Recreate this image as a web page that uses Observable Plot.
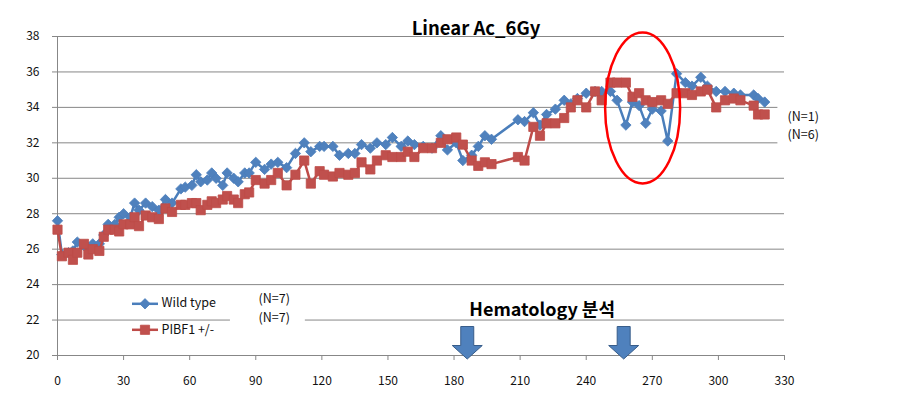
<!DOCTYPE html>
<html><head><meta charset="utf-8">
<script src="https://cdn.jsdelivr.net/npm/d3@7"></script>
<script src="https://cdn.jsdelivr.net/npm/@observablehq/plot@0.6"></script>
<style>body{margin:0;background:#fff;}</style>
</head><body><div id="chart"></div>
<script>
// ---- data ----
const days = [
  0,2,5,7,9,12,14,16,19,21,
  23,26,28,30,33,35,37,40,43,46,
  49,52,56,58,61,63,65,68,70,72,
  75,77,80,82,85,87,90,94,97,100,
  104,108,112,115,119,121,125,128,132,135,
  138,142,145,149,152,156,159,162,166,170,
  174,177,181,184,188,191,194,197,209,212,
  216,219,222,226,230,233,236,240,244,247,
  251,254,258,261,264,267,270,274,277,281,
  285,288,292,295,299,303,307,310,316,318,
  321
];
const wildType = [
  27.6,25.7,25.8,25.9,26.4,26.2,26.1,26.3,26.3,26.8,
  27.4,27.4,27.8,28.0,27.8,28.6,28.2,28.6,28.4,28.2,
  28.8,28.6,29.4,29.5,29.6,30.2,29.8,29.9,30.3,30.0,
  29.6,30.3,30.0,29.8,30.3,30.3,30.9,30.5,30.8,30.9,
  30.6,31.4,32.0,31.5,31.8,31.8,31.8,31.3,31.4,31.4,
  31.9,31.7,32.0,31.9,32.3,31.8,32.1,31.9,31.8,31.7,
  32.4,31.6,32.0,31.0,31.3,31.8,32.4,32.2,33.3,33.2,
  33.7,33.0,33.6,33.9,34.4,34.2,34.5,34.8,34.9,34.9,
  34.9,34.4,33.0,34.3,34.1,33.1,33.9,33.8,32.1,35.9,
  35.4,35.2,35.7,35.2,34.9,34.9,34.8,34.7,34.7,34.5,
  34.3
];
const pibf1 = [
  27.1,25.6,25.8,25.4,25.8,26.3,25.7,26.0,25.9,26.7,
  27.1,27.1,27.0,27.4,27.4,27.8,27.3,27.9,27.8,27.7,
  28.3,28.1,28.5,28.5,28.6,28.6,28.2,28.5,28.7,28.6,
  28.8,29.0,28.8,28.6,29.1,29.2,29.9,29.7,29.9,30.3,
  29.6,30.2,31.0,29.7,30.4,30.2,30.1,30.3,30.2,30.3,
  30.9,30.5,31.0,31.3,31.2,31.2,31.5,31.2,31.7,31.7,
  32.0,32.2,32.3,31.9,31.0,30.7,30.9,30.8,31.2,31.0,
  32.9,32.4,33.1,33.1,33.4,34.0,34.4,34.0,34.9,34.4,
  35.4,35.4,35.4,34.6,34.8,34.4,34.3,34.4,34.2,34.8,
  34.8,34.7,34.9,35.0,34.0,34.4,34.5,34.4,34.1,33.6,
  33.6
];
const xTicks = [0,30,60,90,120,150,180,210,240,270,300,330];
const yTicks = [20,22,24,26,28,30,32,34,36,38];
const seriesNames = ["Wild type", "PIBF1 +/-"];
const startGroupSizes = ["(N=7)", "(N=7)"];
const lateGroupSizes = ["(N=1)", "(N=6)"];
const chartTitle = "Linear Ac_6Gy";
const hematologyLabel = "Hematology 분석";
const hematologyDays = [186, 257];
const highlightDay = [265.6];
const highlightValue = [33.97];

// ---- build ----
const rows = days.map((d, i) => ({day: d, wild: wildType[i], pibf: pibf1[i]}));

const blue = "#4f81bd", blueLine = "#4a7ebb", red = "#c0504d", redLine = "#be4b48";
const gridColor = "#878787";
const font = "'Malgun Gothic','Noto Sans CJK KR','Noto Sans',sans-serif";

const diamond = {draw(c) { const s = 5.2; c.moveTo(0,-s); c.lineTo(s,0); c.lineTo(0,s); c.lineTo(-s,0); c.closePath(); }};
const square = {draw(c) { const s = 4.6; c.rect(-s,-s,2*s,2*s); }};
const hline = {draw(c) { c.rect(-13,-1.25,26,2.5); }};
const downArrow = {draw(c) {
  c.moveTo(-6.5,-29); c.lineTo(6.5,-29); c.lineTo(6.5,-10); c.lineTo(15,-10);
  c.lineTo(0,3.5); c.lineTo(-15,-10); c.lineTo(-6.5,-10); c.closePath();
}};
const ellipse = {draw(c) {
  const rx = 37.5, ry = 75.5, k = 0.5523;
  c.moveTo(rx,0);
  c.bezierCurveTo(rx,k*ry,k*rx,ry,0,ry);
  c.bezierCurveTo(-k*rx,ry,-rx,k*ry,-rx,0);
  c.bezierCurveTo(-rx,-k*ry,-k*rx,-ry,0,-ry);
  c.bezierCurveTo(k*rx,-ry,rx,-k*ry,rx,0);
  c.closePath();
}};

const chart = Plot.plot({
  width: 910, height: 415,
  marginLeft: 57, marginRight: 126, marginTop: 36, marginBottom: 60,
  style: {fontFamily: font, fontSize: "12px", background: "#fff", color: "#000"},
  x: {domain: [0, 330]},
  y: {domain: [20, 38]},
  marks: [
    Plot.ruleY(yTicks, {stroke: gridColor, strokeWidth: 1}),
    Plot.rect([0], {x1: 78.5, x2: 112.5, y1: 21.3, y2: 22.7, fill: "#fff"}),
    Plot.rect([0], {x1: 327, x2: 345, y1: 31.5, y2: 34.5, fill: "#fff"}),
    Plot.ruleX([0], {stroke: gridColor}),
    Plot.axisY({ticks: yTicks, tickSize: 5, tickPadding: 13, label: null, stroke: gridColor, fill: "#111", fontSize: 12}),
    Plot.axisX({ticks: xTicks, tickSize: 5, tickPadding: 16, label: null, stroke: gridColor, fill: "#111", fontSize: 12}),
    Plot.line(rows, {x: "day", y: "wild", stroke: blueLine, strokeWidth: 2.5}),
    Plot.dot(rows, {x: "day", y: "wild", symbol: diamond, fill: blue, stroke: blueLine, strokeWidth: 0.8}),
    Plot.line(rows, {x: "day", y: "pibf", stroke: redLine, strokeWidth: 2.5}),
    Plot.dot(rows, {x: "day", y: "pibf", symbol: square, fill: red, stroke: redLine, strokeWidth: 0.8}),
    // highlight ellipse
    Plot.dot(highlightDay.map((d, i) => ({d, v: highlightValue[i]})), {x: "d", y: "v", symbol: ellipse, fill: "none", stroke: "#ff0000", strokeWidth: 2.5}),
    // hematology arrows + label
    Plot.dot(hematologyDays, {x: d => d, y: () => 20, symbol: downArrow, fill: blue, stroke: "#385d8a", strokeWidth: 1}),
    Plot.text([hematologyLabel], {x: 220, y: 22.55, fontSize: 18, fontWeight: "bold", fill: "#000"}),
    // title
    Plot.text([chartTitle], {frameAnchor: "top", dx: 55, dy: -15, fontSize: 18.5, fontWeight: "bold", fill: "#000"}),
    // legend
    Plot.dot([0], {frameAnchor: "bottom-left", dx: 87.5, dy: -51.7, symbol: hline, fill: blueLine}),
    Plot.dot([0], {frameAnchor: "bottom-left", dx: 87.5, dy: -51.7, symbol: diamond, fill: blue, stroke: blueLine, strokeWidth: 0.8}),
    Plot.dot([0], {frameAnchor: "bottom-left", dx: 87.5, dy: -25.7, symbol: hline, fill: redLine}),
    Plot.dot([0], {frameAnchor: "bottom-left", dx: 87.5, dy: -25.7, symbol: square, fill: red, stroke: redLine, strokeWidth: 0.8}),
    Plot.text([seriesNames[0]], {frameAnchor: "bottom-left", dx: 104, dy: -49, textAnchor: "start", fontSize: 12.5, fill: "#111"}),
    Plot.text([seriesNames[1]], {frameAnchor: "bottom-left", dx: 104, dy: -22, textAnchor: "start", fontSize: 12.5, fill: "#111"}),
    Plot.text([startGroupSizes.join("\n")], {frameAnchor: "bottom-left", dx: 201, dy: -34, lineHeight: 1.45, fontSize: 12.5, fill: "#111"}),
    Plot.text([lateGroupSizes.join("\n")], {frameAnchor: "right", dx: 3, dy: -71.5, textAnchor: "start", lineHeight: 1.45, fontSize: 12.5, fill: "#111"})
  ]
});
document.getElementById("chart").append(chart);
</script>
</body></html>
